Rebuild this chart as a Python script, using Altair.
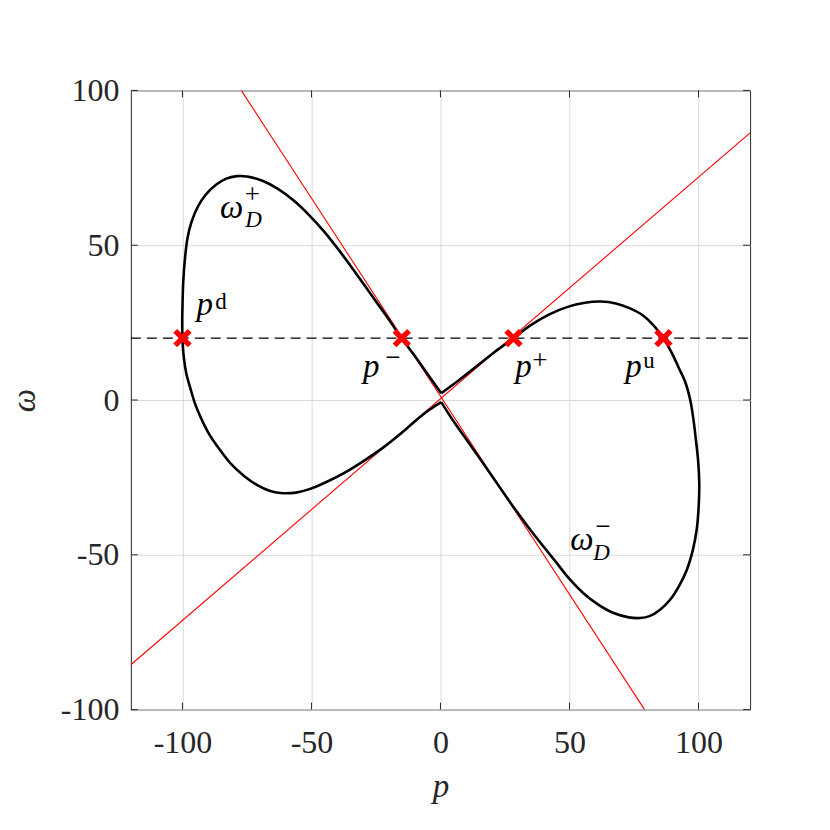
import altair as alt
import pandas as pd

FONT = "Liberation Serif"
AXC = "#262626"

# ---- data ----
tick_vals = [-100, -50, 0, 50, 100]

# left loop: from the upper vertex through the upper-left lobe (omega_D^+),
# down the left side and back through the lower-left lobe to the lower vertex
left_p = [0.3, -5.0, -10.0, -15.0, -21.0, -27.2, -33.0, -39.0, -45.0, -51.0,
          -57.0, -63.0, -69.0, -75.0, -79.0, -83.0, -87.0, -91.0, -94.0, -96.5,
          -98.0, -99.0, -99.7, -100.0, -100.1, -100.0, -99.5, -98.5, -97.0, -95.2,
          -93.0, -90.0, -86.0, -81.0, -76.0, -71.0, -66.0, -61.0, -56.0, -50.5,
          -44.0, -37.6, -30.0, -22.1, -15.0, -9.1, -4.0, 0.3]
left_w = [2.2, 8.4, 14.3, 19.9, 27.2, 34.4, 41.2, 48.0, 54.3, 59.8,
          64.5, 68.2, 70.8, 72.2, 72.3, 71.5, 69.5, 66.3, 62.5, 57.5,
          52.5, 46.0, 38.0, 30.0, 25.0, 20.0, 14.0, 8.5, 4.0, -1.0,
          -5.5, -10.5, -15.5, -20.8, -24.6, -27.5, -29.4, -30.1, -29.9, -28.7,
          -26.4, -23.7, -19.8, -15.3, -10.6, -6.3, -3.0, -0.7]

# right loop: from the upper vertex through the upper-right lobe, down the
# right side and back through the lower-right lobe (omega_D^-) to the lower vertex
right_p = [0.3, 7.0, 14.0, 21.0, 28.3, 35.0, 42.0, 49.0, 56.0, 62.0,
           68.0, 73.5, 78.0, 82.5, 86.4, 89.5, 92.3, 94.8, 96.8, 98.0,
           99.0, 99.9, 100.3, 100.1, 99.3, 97.8, 95.5, 92.5, 89.0, 85.0,
           81.0, 77.4, 73.0, 67.1, 61.0, 55.4, 50.0, 45.1, 40.0, 34.8,
           28.0, 21.9, 16.0, 10.2, 5.0, 0.3]
right_w = [2.2, 6.3, 10.9, 15.5, 20.0, 24.2, 27.6, 30.0, 31.4, 31.8,
           31.2, 29.6, 27.6, 24.2, 19.9, 15.5, 10.5, 6.0, 0.0, -6.0,
           -12.9, -20.0, -27.0, -34.0, -41.9, -48.5, -54.8, -60.0, -64.5, -67.8,
           -69.8, -70.4, -70.2, -68.8, -66.0, -62.4, -57.8, -52.7, -47.4, -41.9,
           -34.2, -26.9, -19.8, -12.9, -6.8, -0.7]

# red tangent lines (end points)
red1_p = [-77.2, 79.1]
red1_w = [100.0, -100.0]
red2_p = [-120.0, 120.0]
red2_w = [-85.5, 86.3]

# dashed level omega = 20
dash_p = [-120.0, 120.0]
dash_w = [20.0, 20.0]

# crossing points
cross_p = [-100.0, -15.0, 28.3, 86.4]
cross_w = [20.0, 20.0, 20.0, 20.0]

# labels
big_t = ["ω", "p", "p", "p", "p", "ω"]
big_p = [-85.4, -94.6, -30.0, 29.0, 71.6, 50.3]
big_w = [58.7, 27.4, 7.4, 7.4, 7.4, -48.4]

sub_t = ["D", "D"]
sub_p = [-75.7, 59.2]
sub_w = [55.8, -51.6]

sup_t = ["d", "u"]
sup_p = [-87.3, 78.6]
sup_w = [29.4, 10.3]

sign_t = ["+", "−", "+", "−"]
sign_p = [-75.9, -21.4, 35.6, 60.0]
sign_w = [63.6, 11.0, 10.1, -43.5]

# ---- frames ----
curve_df = pd.DataFrame({
    "p": left_p + right_p,
    "w": left_w + right_w,
    "loop": ["left"] * len(left_p) + ["right"] * len(right_p),
    "o": list(range(len(left_p))) + list(range(len(right_p))),
})
red_df = pd.DataFrame({
    "p": red1_p + red2_p,
    "w": red1_w + red2_w,
    "ln": ["a", "a", "b", "b"],
})
dash_df = pd.DataFrame({"p": dash_p, "w": dash_w})
cross_df = pd.DataFrame({"p": cross_p, "w": cross_w})
big_df = pd.DataFrame({"t": big_t, "p": big_p, "w": big_w})
sub_df = pd.DataFrame({"t": sub_t, "p": sub_p, "w": sub_w})
sup_df = pd.DataFrame({"t": sup_t, "p": sup_p, "w": sup_w})
sign_df = pd.DataFrame({"t": sign_t, "p": sign_p, "w": sign_w})
tick_df = pd.DataFrame({"tv": tick_vals})

xscale = alt.Scale(domain=[-120, 120], nice=False, zero=False)
yscale = alt.Scale(domain=[-100, 100], nice=False, zero=False)

X_AX = alt.Axis(values=tick_vals, grid=True, gridColor="#dadada", gridWidth=1,
                ticks=False, domain=False, labelFont=FONT, labelFontSize=32,
                labelColor=AXC, labelPadding=18, labelExpr="'' + datum.value",
                titleFont=FONT, titleFontStyle="italic", titleFontWeight="normal",
                titleFontSize=33, titleColor=AXC, titleY=87, titleBaseline="alphabetic")
Y_AX = alt.Axis(values=tick_vals, grid=True, gridColor="#dadada", gridWidth=1,
                ticks=False, domain=False, labelFont=FONT, labelFontSize=32,
                labelColor=AXC, labelPadding=12, labelExpr="'' + datum.value",
                titleFont=FONT, titleFontStyle="italic", titleFontWeight="normal",
                titleFontSize=33, titleColor=AXC, titleX=-106, titleY=310,
                titleBaseline="middle", titleAngle=270)


def X(f):
    return alt.X(f, type="quantitative", scale=xscale, axis=X_AX, title="p")


def Y(f):
    return alt.Y(f, type="quantitative", scale=yscale, axis=Y_AX, title="ω")


base_ticks = alt.Chart(tick_df)
t_bottom = base_ticks.mark_rule(color=AXC, strokeWidth=1).encode(
    x=X("tv"), y=alt.value(620), y2=alt.value(613))
t_top = base_ticks.mark_rule(color=AXC, strokeWidth=1).encode(
    x=X("tv"), y=alt.value(0), y2=alt.value(7))
t_left = base_ticks.mark_rule(color=AXC, strokeWidth=1).encode(
    y=Y("tv"), x=alt.value(0), x2=alt.value(7))
t_right = base_ticks.mark_rule(color=AXC, strokeWidth=1).encode(
    y=Y("tv"), x=alt.value(620), x2=alt.value(613))

red = alt.Chart(red_df).mark_line(color="#ff0000", strokeWidth=1.1, clip=True).encode(
    x=X("p"), y=Y("w"), detail="ln:N")

curves = alt.Chart(curve_df).mark_line(color="black", strokeWidth=2.6,
                                       interpolate="catmull-rom", clip=True).encode(
    x=X("p"), y=Y("w"), detail="loop:N", order="o:Q")

dash = alt.Chart(dash_df).mark_line(color="black", strokeWidth=1.3,
                                    strokeDash=[10, 6]).encode(x=X("p"), y=Y("w"))

cross = alt.Chart(cross_df).mark_point(shape="M-1,-1L1,1M-1,1L1,-1", filled=False,
                                       color="#ff0000", strokeWidth=5.5, size=210,
                                       opacity=1).encode(x=X("p"), y=Y("w"))

big = alt.Chart(big_df).mark_text(font=FONT, fontStyle="italic", fontSize=33,
                                  align="left", baseline="alphabetic",
                                  color="black").encode(x=X("p"), y=Y("w"), text="t:N")
sub = alt.Chart(sub_df).mark_text(font=FONT, fontStyle="italic", fontSize=23,
                                  align="left", baseline="alphabetic",
                                  color="black").encode(x=X("p"), y=Y("w"), text="t:N")
sup = alt.Chart(sup_df).mark_text(font=FONT, fontSize=23, align="left",
                                  baseline="alphabetic",
                                  color="black").encode(x=X("p"), y=Y("w"), text="t:N")
sign = alt.Chart(sign_df).mark_text(font=FONT, fontSize=27, align="left",
                                    baseline="alphabetic",
                                    color="black").encode(x=X("p"), y=Y("w"), text="t:N")

chart = alt.layer(
    red, curves, dash, cross, big, sub, sup, sign, t_bottom, t_top, t_left, t_right
).properties(
    width=620, height=620,
    autosize=alt.AutoSizeParams(type="none"),
    padding={"left": 123, "top": 82, "right": 72, "bottom": 110},
    background="white",
).configure_view(stroke=AXC, strokeWidth=1)

chart.save("out.html", embed_options={"renderer": "svg", "actions": False})
